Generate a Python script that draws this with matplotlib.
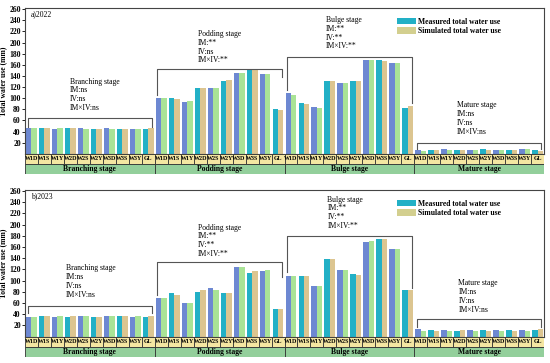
import matplotlib
matplotlib.use("Agg")
import matplotlib.pyplot as plt
from matplotlib.patches import Rectangle, Patch

plt.rcParams['font.family'] = ['Liberation Serif', 'DejaVu Serif']

# ---- data -------------------------------------------------------------
stages = ["Branching stage", "Podding stage", "Bulge stage", "Mature stage"]
treatments = ["W1D", "W1S", "W1Y", "W2D", "W2S", "W2Y", "W3D", "W3S", "W3Y", "GL"]

meas_2022 = [47, 46, 44, 46, 46, 44, 46, 45, 45, 45,
             101, 101, 93, 119, 119, 131, 146, 152, 143, 80,
             109, 92, 84, 131, 128, 131, 168, 168, 164, 83,
             6, 6, 8, 6, 7, 9, 7, 7, 8, 6]
sim_2022 = [46, 46, 47, 46, 45, 45, 45, 45, 45, 46,
            100, 98, 94, 119, 119, 132, 145, 150, 143, 79,
            106, 90, 83, 131, 127, 131, 168, 167, 163, 85,
            5, 6, 6, 6, 6, 7, 6, 7, 9, 5]

meas_2023 = [35, 36, 35, 35, 36, 35, 36, 36, 35, 35,
             68, 77, 60, 80, 86, 77, 124, 114, 117, 50,
             109, 109, 90, 139, 119, 111, 169, 175, 157, 84,
             13, 11, 11, 10, 11, 11, 12, 11, 11, 12]
sim_2023 = [35, 36, 37, 36, 37, 35, 36, 37, 36, 36,
            68, 74, 60, 83, 84, 77, 124, 117, 119, 50,
            109, 109, 90, 139, 119, 110, 170, 175, 157, 84,
            10, 10, 10, 11, 10, 10, 10, 10, 10, 13]

sig_2022 = [("ns", "ns", "ns"), ("**", "ns", "**"), ("**", "**", "**"), ("ns", "ns", "ns")]
sig_2023 = [("ns", "ns", "ns"), ("**", "**", "**"), ("**", "**", "**"), ("ns", "ns", "ns")]

# bracket (top, left end, right end) and note positions (x, y) per stage
brk_2022 = [(64, 49, 49), (153, 106, 138), (174, 115, 91), (19, 9, 9)]
brk_2023 = [(54, 42, 42), (133, 74, 106), (180, 115, 87), (31, 17, 17)]
note_2022 = [(2.95, 137), (12.8, 223), (22.7, 248), (32.8, 95)]
note_2023 = [(2.65, 130), (12.8, 202), (22.8, 252), (32.9, 103)]

MEAS_C = ["#6d88d2", "#22b0c6"]
SIM_C = ["#a9e396", "#dcc590"]
W = 0.42
FS = 5.5


def draw_panel(ax, axt, meas, sim, sig, brk, note, tag):
    n = len(meas)
    x = list(range(n))
    ax.bar([i - W / 2 for i in x], meas, width=W,
           color=[MEAS_C[i % 2] for i in x], linewidth=0)
    ax.bar([i + W / 2 for i in x], sim, width=W,
           color=[SIM_C[i % 2] for i in x], linewidth=0)
    ax.set_xlim(-0.5, n - 0.5)
    ax.set_ylim(0, 262)
    ax.set_xticks([])
    ax.set_yticks(range(20, 261, 20))
    ax.tick_params(axis='y', direction='out', length=2, width=0.6,
                   labelsize=FS, pad=1)
    for lb in ax.get_yticklabels():
        lb.set_fontweight('bold')
    for s in ax.spines.values():
        s.set_linewidth(0.8)
        s.set_color('#444444')
    ax.set_ylabel("Total water use (mm)", fontsize=FS, fontweight='bold')
    ax.yaxis.set_label_coords(-0.035, 0.5)
    ax.text(0.012, 0.955, tag, transform=ax.transAxes, fontsize=FS,
            va='center', ha='left')

    for g, st in enumerate(stages):
        x0 = g * 10 - 0.3
        x1 = g * 10 + 9.3
        top, yl, yr = brk[g]
        ax.plot([x0, x0, x1, x1], [yl, top, top, yr], color='#555555', lw=0.8)
        im, iv, ii = sig[g]
        txt = "%s\nIM:%s\nIV:%s\nIM×IV:%s" % (st, im, iv, ii)
        ax.text(note[g][0], note[g][1], txt, fontsize=FS, va='top',
                ha='left', linespacing=1.15)

    handles = [Patch(facecolor=MEAS_C[1], edgecolor='none'),
               Patch(facecolor="#d3cf8f", edgecolor='none')]
    leg = ax.legend(handles, ["Measured total water use",
                              "Simulated total water use"],
                    loc='upper right', bbox_to_anchor=(0.923, 0.955),
                    frameon=False, fontsize=FS, handlelength=2.4,
                    handleheight=1.0, labelspacing=0.15, handletextpad=0.3,
                    borderaxespad=0)
    for t in leg.get_texts():
        t.set_fontweight('bold')

    # category table below the axes
    axt.set_xlim(-0.5, n - 0.5)
    axt.set_ylim(0, 2)
    axt.axis('off')
    for i in x:
        axt.add_patch(Rectangle((i - 0.5, 1), 1, 1, facecolor="#f4e6a2",
                                edgecolor='#333333', lw=0.6))
        axt.text(i, 1.5, treatments[i % 10], fontsize=4.3, fontweight='bold',
                 ha='center', va='center')
    for g, st in enumerate(stages):
        axt.add_patch(Rectangle((g * 10 - 0.5, 0), 10, 1, facecolor="#93cf9b",
                                edgecolor='#333333', lw=0.6))
        axt.text(g * 10 + 4.5, 0.5, st, fontsize=FS, fontweight='bold',
                 ha='center', va='center')


fig = plt.figure(figsize=(5.5, 3.63), dpi=100)
H = 363.0
L, R = 25 / 550, 544 / 550

ax1 = fig.add_axes([L, 1 - 153.8 / H, R - L, (153.8 - 8) / H])
at1 = fig.add_axes([L, 1 - 173.5 / H, R - L, (173.5 - 153.8) / H])
ax2 = fig.add_axes([L, 1 - 336.5 / H, R - L, (336.5 - 190) / H])
at2 = fig.add_axes([L, 1 - 357 / H, R - L, (357 - 336.5) / H])

draw_panel(ax1, at1, meas_2022, sim_2022, sig_2022, brk_2022, note_2022, "a)2022")
draw_panel(ax2, at2, meas_2023, sim_2023, sig_2023, brk_2023, note_2023, "b)2023")

fig.savefig("out.png", dpi=100)
